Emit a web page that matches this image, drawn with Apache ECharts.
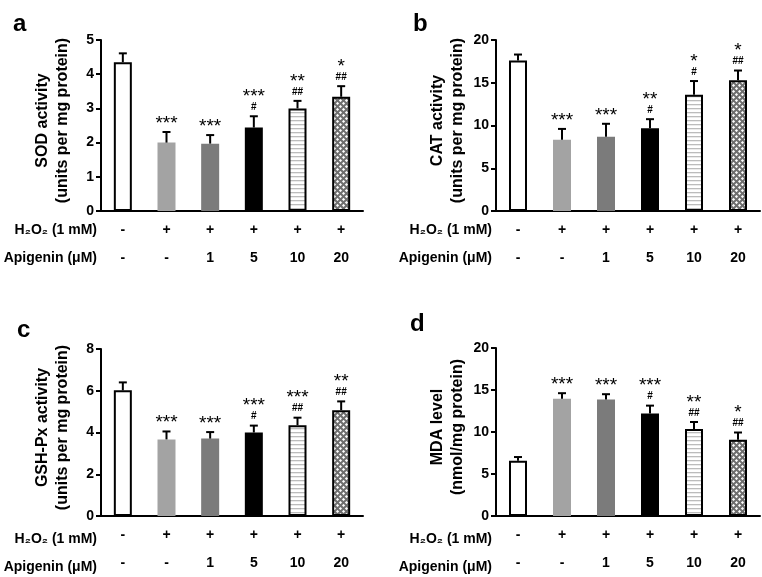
<!DOCTYPE html>
<html>
<head>
<meta charset="utf-8">
<script src="https://cdn.jsdelivr.net/npm/echarts@6/dist/echarts.min.js"></script>
<style>
html,body{margin:0;padding:0;background:#fff;}
#chart{width:762px;height:577px;}
</style>
</head>
<body>
<div id="chart"></div>
<script>
// ---- data ----
const categories = ['Control', 'H2O2', 'H2O2+Api1', 'H2O2+Api5', 'H2O2+Api10', 'H2O2+Api20'];
const h2o2Row = ['-', '+', '+', '+', '+', '+'];
const apigeninRow = ['-', '-', '1', '5', '10', '20'];

const sodMean = [4.35, 2.00, 1.97, 2.44, 3.00, 3.34];
const sodErr  = [0.26, 0.31, 0.25, 0.33, 0.22, 0.31];
const sodStars = ['', '***', '***', '***', '**', '*'];
const sodHash  = ['', '', '', '#', '##', '##'];

const catMean = [17.6, 8.33, 8.68, 9.69, 13.6, 15.3];
const catErr  = [0.7, 1.27, 1.52, 1.05, 1.6, 1.13];
const catStars = ['', '***', '***', '**', '*', '*'];
const catHash  = ['', '', '', '#', '#', '##'];

const gshMean = [6.02, 3.67, 3.71, 4.00, 4.35, 5.07];
const gshErr  = [0.38, 0.38, 0.31, 0.33, 0.36, 0.42];
const gshStars = ['', '***', '***', '***', '***', '**'];
const gshHash  = ['', '', '', '#', '##', '##'];

const mdaMean = [6.59, 13.96, 13.88, 12.2, 10.37, 9.08];
const mdaErr  = [0.43, 0.66, 0.62, 0.94, 0.82, 0.86];
const mdaStars = ['', '***', '***', '***', '**', '*'];
const mdaHash  = ['', '', '', '#', '##', '##'];

const sodTicks = [0, 5, 1];
const catTicks = [0, 20, 5];
const gshTicks = [0, 8, 2];
const mdaTicks = [0, 20, 5];

// ---- styling helpers ----
const FONT = "'Liberation Sans', Arial, Helvetica, sans-serif";

function stripeCanvas() {
  const c = document.createElement('canvas');
  c.width = 4; c.height = 4;
  const g = c.getContext('2d');
  g.fillStyle = '#ffffff'; g.fillRect(0, 0, 4, 4);
  g.fillStyle = '#bcbcbc'; g.fillRect(0, 0, 4, 1.3);
  return c;
}
function checkCanvas() {
  const c = document.createElement('canvas');
  c.width = 6; c.height = 6;
  const g = c.getContext('2d');
  g.fillStyle = '#6f6f6f'; g.fillRect(0, 0, 6, 6);
  g.fillStyle = '#ffffff';
  function dia(cx, cy) {
    g.beginPath();
    g.moveTo(cx, cy - 1.6); g.lineTo(cx + 1.6, cy); g.lineTo(cx, cy + 1.6); g.lineTo(cx - 1.6, cy);
    g.closePath(); g.fill();
  }
  dia(1.5, 1.5); dia(4.5, 4.5); dia(7.5, 1.5); dia(-1.5, 4.5); dia(1.5, 7.5); dia(4.5, -1.5);
  return c;
}
const barStyles = [
  { color: '#ffffff', borderColor: '#000', borderWidth: 2 },
  { color: '#a3a3a3', borderWidth: 0 },
  { color: '#7b7b7b', borderWidth: 0 },
  { color: '#000000', borderWidth: 0 },
  { color: { image: stripeCanvas(), repeat: 'repeat' }, borderColor: '#000', borderWidth: 2 },
  { color: { image: checkCanvas(), repeat: 'repeat' }, borderColor: '#000', borderWidth: 2 }
];

const panels = [
  { letter: 'a', name: 'SOD activity\n(units per mg protein)', mean: sodMean, err: sodErr, stars: sodStars, hash: sodHash, ticks: sodTicks,
    grid: { left: 101, right: 399, top: 40, bottom: 366 }, letterPos: [13, 12] },
  { letter: 'b', name: 'CAT activity\n(units per mg protein)', mean: catMean, err: catErr, stars: catStars, hash: catHash, ticks: catTicks,
    grid: { left: 496, right: 2, top: 40, bottom: 366 }, letterPos: [413, 12] },
  { letter: 'c', name: 'GSH-Px activity\n(units per mg protein)', mean: gshMean, err: gshErr, stars: gshStars, hash: gshHash, ticks: gshTicks,
    grid: { left: 101, right: 399, top: 349, bottom: 57 }, letterPos: [17, 318] },
  { letter: 'd', name: 'MDA level\n(nmol/mg protein)', mean: mdaMean, err: mdaErr, stars: mdaStars, hash: mdaHash, ticks: mdaTicks,
    grid: { left: 496, right: 2, top: 348, bottom: 57 }, letterPos: [410, 312] }
];

const grids = [], xAxes = [], yAxes = [], series = [], graphics = [];
panels.forEach((p, k) => {
  grids.push(Object.assign({ containLabel: false }, p.grid));
  xAxes.push({
    type: 'category', gridIndex: k, data: categories,
    axisLine: { lineStyle: { color: '#000', width: 2 } },
    axisTick: { show: false },
    axisLabel: {
      interval: 0, margin: 5, lineHeight: 28, color: '#000', fontFamily: FONT, fontSize: 14, fontWeight: 'bold',
      formatter: (v, i) => h2o2Row[i] + '\n' + apigeninRow[i]
    }
  });
  yAxes.push({
    type: 'value', gridIndex: k, min: p.ticks[0], max: p.ticks[1], interval: p.ticks[2],
    splitLine: { show: false },
    axisLine: { show: true, lineStyle: { color: '#000', width: 2 } },
    axisTick: { show: true, length: 5, lineStyle: { color: '#000', width: 2 } },
    axisLabel: { color: '#000', fontFamily: FONT, fontSize: 14, fontWeight: 'bold', margin: 7 },
    name: p.name, nameLocation: 'middle', nameRotate: 90, nameGap: 28,
    nameTextStyle: { color: '#000', fontFamily: FONT, fontSize: 16, fontWeight: 'bold', lineHeight: 20, padding: [0, 0, 0, 10] }
  });
  series.push({
    type: 'bar', xAxisIndex: k, yAxisIndex: k, barWidth: 18, silent: true,
    data: p.mean.map((v, i) => ({ value: v, itemStyle: barStyles[i] }))
  });
  series.push({
    type: 'custom', xAxisIndex: k, yAxisIndex: k, silent: true, z: 5,
    data: p.mean.map((v, i) => [i, v, p.err[i]]),
    renderItem: (params, api) => {
      const i = api.value(0), m = api.value(1), e = api.value(2);
      const base = api.coord([i, m]);
      const top = api.coord([i, m + e]);
      const children = [
        { type: 'line', shape: { x1: base[0], y1: base[1], x2: top[0], y2: top[1] }, style: { stroke: '#000', lineWidth: 2 } },
        { type: 'line', shape: { x1: top[0] - 4, y1: top[1], x2: top[0] + 4, y2: top[1] }, style: { stroke: '#000', lineWidth: 2 } }
      ];
      const idx = params.dataIndex;
      const st = p.stars[idx], hs = p.hash[idx];
      if (hs) {
        children.push({ type: 'text', style: { text: hs, x: top[0], y: top[1] - 4, align: 'center', verticalAlign: 'bottom',
          fill: '#000', font: 'bold 10px ' + FONT } });
      }
      if (st) {
        children.push({ type: 'text', style: { text: st, x: top[0], y: top[1] + 1 - (hs ? 11 : 0), align: 'center', verticalAlign: 'bottom',
          fill: '#000', font: '19px ' + FONT } });
      }
      return { type: 'group', children };
    }
  });
  const axisY = 577 - p.grid.bottom;
  graphics.push({ type: 'text', left: p.letterPos[0], top: p.letterPos[1], style: { text: p.letter, font: 'bold 24px ' + FONT, fill: '#000' } });
  graphics.push({ type: 'text', x: p.grid.left - 4, y: axisY + 19, style: { text: 'H\u2082O\u2082 (1 mM)', align: 'right', verticalAlign: 'middle', font: 'bold 14px ' + FONT, fill: '#000' } });
  graphics.push({ type: 'text', x: p.grid.left - 4, y: axisY + 47, style: { text: 'Apigenin (\u03bcM)', align: 'right', verticalAlign: 'middle', font: 'bold 14px ' + FONT, fill: '#000' } });
});

const chart = echarts.init(document.getElementById('chart'), null, { renderer: 'canvas' });
chart.setOption({
  animation: false,
  backgroundColor: '#fff',
  grid: grids, xAxis: xAxes, yAxis: yAxes, series: series, graphic: graphics
});
</script>
</body>
</html>
